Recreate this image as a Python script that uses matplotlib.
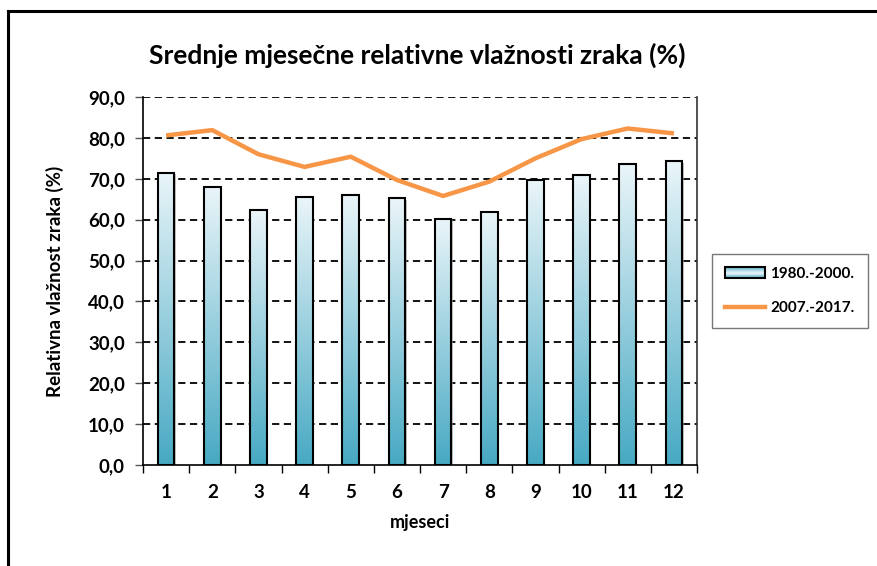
import matplotlib
matplotlib.use("Agg")
import matplotlib.pyplot as plt
import numpy as np
from matplotlib.lines import Line2D
from matplotlib.patches import Rectangle
from matplotlib.legend_handler import HandlerBase
from matplotlib.colors import LinearSegmentedColormap
from matplotlib.ticker import FuncFormatter, FixedLocator

plt.rcParams['font.family'] = ['Lato', 'DejaVu Sans']

months = [1, 2, 3, 4, 5, 6, 7, 8, 9, 10, 11, 12]
hum_1980_2000 = [71.5, 68.1, 62.4, 65.5, 66.0, 65.2, 60.2, 61.9, 69.6, 70.9, 73.6, 74.3]
hum_2007_2017 = [80.6, 81.9, 76.0, 72.9, 75.4, 69.7, 65.8, 69.3, 75.0, 79.7, 82.3, 81.1]
label_bars = "1980.-2000."
label_line = "2007.-2017."
title = "Srednje mjesečne relativne vlažnosti zraka (%)"
xlabel = "mjeseci"
ylabel = "Relativna vlažnost zraka (%)"

light = "#EAF5F9"
dark = "#47A9C3"
cmap = LinearSegmentedColormap.from_list("g", [dark, light])
orange = "#F79646"

fig = plt.figure(figsize=(8.77, 5.66), dpi=100)
ax = fig.add_axes([143/877, 1-465/566, (697-143)/877, (465-97)/566])

x = np.arange(len(months))
bars = ax.bar(x, hum_1980_2000, width=0.36, facecolor='none', edgecolor='black',
              linewidth=1.5, zorder=3)
grad = np.linspace(0, 1, 256).reshape(-1, 1)
for b in bars:
    x0, y0 = b.get_x(), b.get_y()
    w, h = b.get_width(), b.get_height()
    # shadow
    ax.add_patch(Rectangle((x0 + 0.03, y0), w, h - 0.4, facecolor='#9a9a9a',
                           edgecolor='none', zorder=1.5, alpha=0.6))
    im = ax.imshow(grad, extent=[x0, x0 + w, y0, y0 + h], origin='lower',
                   cmap=cmap, aspect='auto', zorder=2)
    im.set_clip_path(b)

ax.plot(x, hum_2007_2017, color=orange, linewidth=3.2, zorder=4,
        solid_capstyle='butt', solid_joinstyle='miter')

ax.set_xlim(-0.5, len(months) - 0.5)
ax.set_ylim(0, 90)
yt = np.arange(0, 91, 10)
ax.set_yticks(yt)
ax.yaxis.set_major_formatter(FuncFormatter(lambda v, p: f"{v:.1f}".replace('.', ',')))
for v in yt[1:]:
    ax.axhline(v, color='black', linestyle=(0, (4, 2.5)), linewidth=1.3, zorder=1)

ax.set_xticks(x)
ax.set_xticklabels([str(m) for m in months])
ax.xaxis.set_minor_locator(FixedLocator(np.arange(-0.5, len(months), 1)))
ax.tick_params(axis='x', which='major', length=0, pad=14, labelsize=13.5)
ax.tick_params(axis='x', which='minor', length=6, width=1, color='black', direction='out')
ax.tick_params(axis='y', length=6, width=1, color='#555555', pad=7, labelsize=13.5)
for lab in ax.get_xticklabels() + ax.get_yticklabels():
    lab.set_fontweight('bold')

ax.spines['left'].set_color('black')
ax.spines['left'].set_linewidth(1.2)
ax.spines['bottom'].set_color('black')
ax.spines['bottom'].set_linewidth(1.2)
ax.spines['right'].set_color('#333333')
ax.spines['right'].set_linewidth(1.2)
ax.spines['top'].set_visible(False)

ax.set_xlabel(xlabel, fontsize=13, fontweight='bold', labelpad=9)
ax.set_ylabel(ylabel, fontsize=13.5, fontweight='bold', labelpad=17)
fig.text(417/877, 1-55/566, title, fontsize=19, fontweight='bold', ha='center', va='center')


class GradHandler(HandlerBase):
    def create_artists(self, legend, orig_handle, xdescent, ydescent, width, height, fontsize, trans):
        arts = []
        n = 12
        for i in range(n):
            c = cmap(abs(i - (n - 1) / 2) / ((n - 1) / 2) * -0.8 + 1.0)
            arts.append(Rectangle((-xdescent, -ydescent + height * i / n), width, height / n + 0.2,
                                  facecolor=c, edgecolor='none', transform=trans))
        arts.append(Rectangle((-xdescent, -ydescent), width, height, facecolor='none',
                              edgecolor='black', linewidth=1.5, transform=trans))
        return arts


bar_handle = Rectangle((0, 0), 1, 1)
line_handle = Line2D([0], [0], color=orange, linewidth=3.2)
leg = fig.legend([bar_handle, line_handle], [label_bars, label_line],
                 handler_map={Rectangle: GradHandler()},
                 loc='center', bbox_to_anchor=(790/877, 1-291/566),
                 frameon=True, fancybox=False, edgecolor='#555555',
                 prop={'weight': 'bold', 'size': 11}, handlelength=2.6,
                 labelspacing=1.3, borderpad=0.85, handletextpad=0.35)
leg.get_frame().set_linewidth(1.0)

# outer border
fig.add_artist(Line2D([8/877, 8/877], [0, 1-11/566], color='black', linewidth=2.2,
                      transform=fig.transFigure))
fig.add_artist(Line2D([8/877, 1], [1-11/566, 1-11/566], color='black', linewidth=2.2,
                      transform=fig.transFigure))

fig.savefig("out.png", dpi=100)
